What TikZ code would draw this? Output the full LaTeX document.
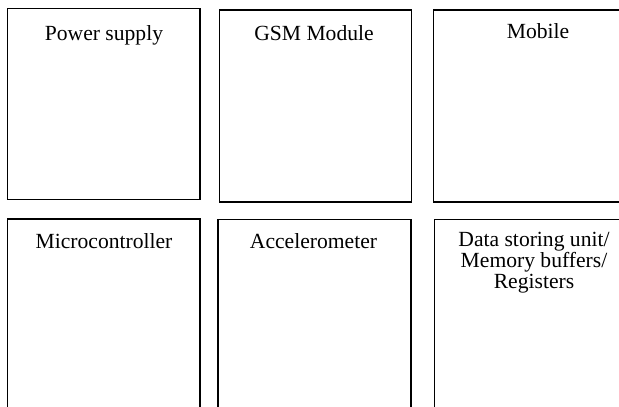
\documentclass[tikz,border=0pt]{standalone}
\usepackage{fontspec}
\setmainfont{Liberation Serif}
\begin{document}
\begin{tikzpicture}[x=1pt,y=-1pt,
  blockbox/.style={draw=black,line width=1.3pt,rectangle},
  blocklabel/.style={font=\fontsize{21.6}{21}\selectfont,inner sep=0pt,align=center}]
\useasboundingbox (0,0) rectangle (619,407);
\clip (0,0) rectangle (619,407);
% upper row of blocks
\draw[blockbox] (7.5,8.5) rectangle (200,199.5);
\draw[blockbox] (219.5,10) rectangle (411.5,202);
\draw[blockbox] (433.5,10) rectangle (640,202);
% lower row of blocks
\draw[blockbox] (7.5,219) rectangle (200,420);
\draw[blockbox] (218,219.5) rectangle (411,420);
\draw[blockbox] (434.5,219.5) rectangle (640,420);
% block titles
\node[blocklabel,anchor=base] (power) at (104,40) {Power supply};
\node[blocklabel,anchor=base] (gsm) at (314,40) {GSM Module};
\node[blocklabel,anchor=base] (mobile) at (538,38.5) {Mobile};
\node[blocklabel,anchor=base] (mcu) at (104,248) {Microcontroller};
\node[blocklabel,anchor=base] (accel) at (313.5,248) {Accelerometer};
\node[blocklabel,anchor=north] (memory) at (534,232) {Data storing unit/\\Memory buffers/\\Registers};
\end{tikzpicture}
\end{document}
